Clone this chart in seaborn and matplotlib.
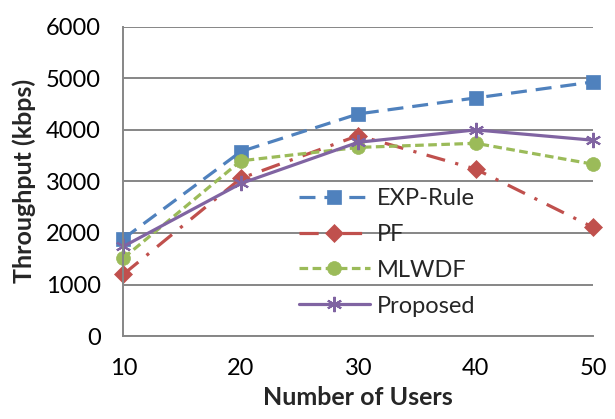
import matplotlib
matplotlib.use("Agg")
import matplotlib.pyplot as plt
import seaborn as sns
import pandas as pd

sns.set_style("white")
plt.rcParams["font.family"] = ["Lato", "DejaVu Sans"]

users = [10, 20, 30, 40, 50]
exp_rule = [1890, 3580, 4310, 4620, 4930]
pf = [1200, 3060, 3890, 3240, 2110]
mlwdf = [1515, 3400, 3660, 3740, 3335]
proposed = [1740, 2960, 3760, 4000, 3800]

series = ["EXP-Rule", "PF", "MLWDF", "Proposed"]
colors = ["#4F81BD", "#C0504D", "#9BBB59", "#8064A2"]
markers = ["s", "D", "o", (6, 2, 0)]
styles = [(0, (5, 2.8)), (0, (6, 3.3, 1, 3.3)), (0, (2.7, 1.4)), "-"]
sizes = [9.5, 9, 10, 11]

df = pd.DataFrame({"users": users, "EXP-Rule": exp_rule, "PF": pf,
                   "MLWDF": mlwdf, "Proposed": proposed})

fig = plt.figure(figsize=(6.15, 4.19), dpi=100)
ax = fig.add_axes([0.2008, 0.198, 0.7634, 0.738])

grid_c = "#868686"
for name, c, m, ls, ms in zip(series, colors, markers, styles, sizes):
    sns.lineplot(data=df, x="users", y=name, ax=ax, color=c, marker=m,
                 linestyle=ls, linewidth=2.3, markersize=ms,
                 markeredgecolor=c,
                 markeredgewidth=1.5 if name == "Proposed" else 0.5,
                 label=name, clip_on=False)

ax.set_xlim(10, 50)
ax.set_ylim(0, 6000)
ax.set_xticks(users)
ax.set_yticks(range(0, 6001, 1000))
ax.grid(axis="y", color=grid_c, linewidth=1.4)
ax.set_axisbelow(True)
for s in ["top", "right"]:
    ax.spines[s].set_visible(False)
for s in ["left", "bottom"]:
    ax.spines[s].set_color(grid_c)
    ax.spines[s].set_linewidth(1.4)
ax.tick_params(axis="both", direction="out", length=6.5, width=1.4,
               color=grid_c, labelsize=17, labelcolor="black")
ax.tick_params(axis="y", pad=10)
ax.tick_params(axis="x", pad=9)

ax.set_xlabel("Number of Users", fontsize=18, fontweight="bold")
ax.set_ylabel("Throughput (kbps)", fontsize=18, fontweight="bold")
ax.xaxis.set_label_coords(0.5, -0.16)
ax.yaxis.set_label_coords(-0.186, 0.5)

ax.legend(loc="center left", bbox_to_anchor=(0.374, 0.271), frameon=False,
          fontsize=17, handlelength=3.0, handletextpad=0.3, labelspacing=0.63,
          borderpad=0, borderaxespad=0)

fig.savefig("out.png", dpi=100)
